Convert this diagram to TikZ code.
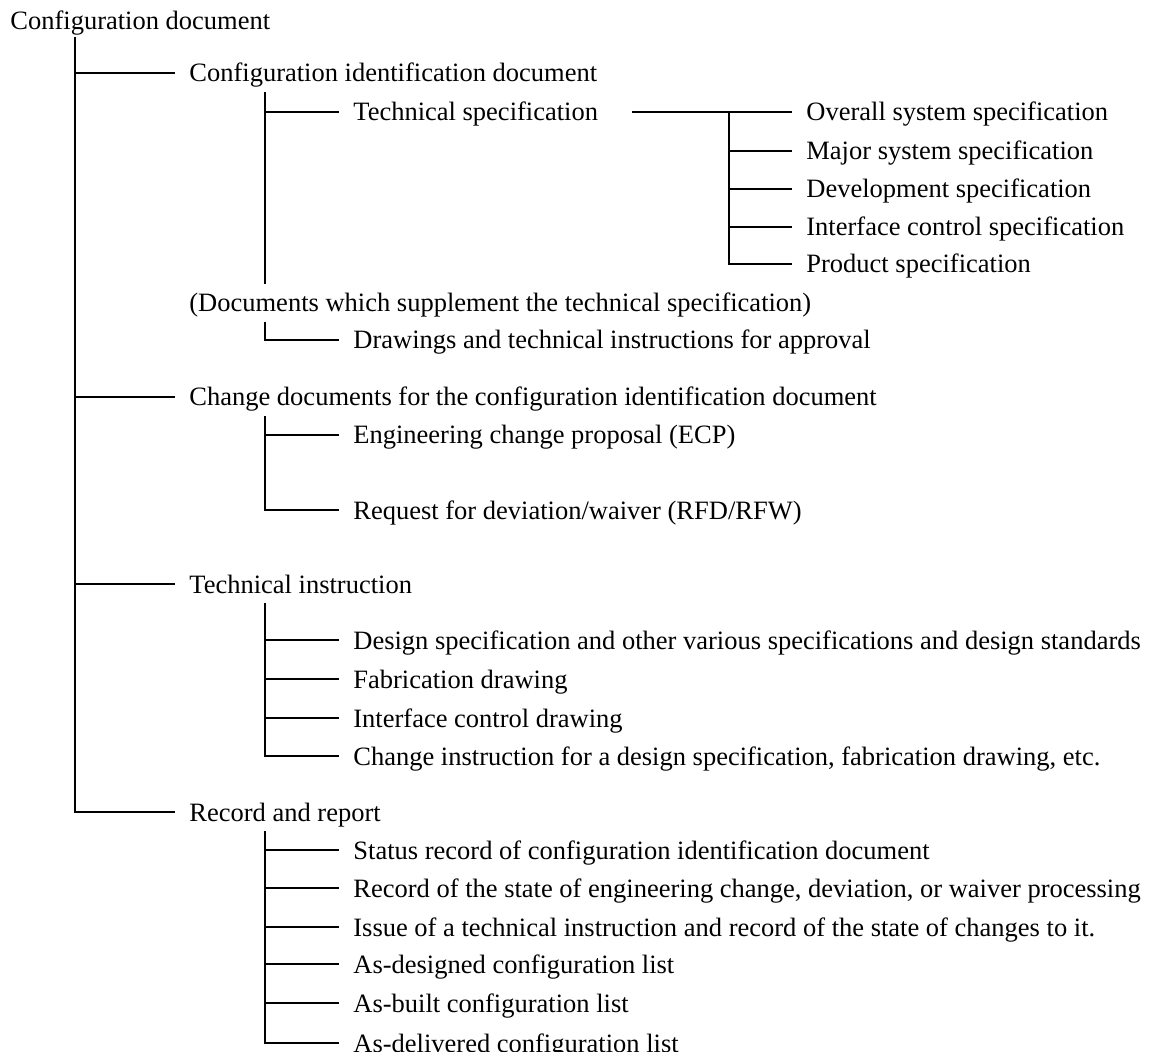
\documentclass[tikz,border=0pt]{standalone}
\usepackage{fontspec}
\setmainfont{Liberation Serif}
\tikzset{
  item/.style={anchor=west, inner xsep=7pt, inner ysep=5pt, text height=9pt, text depth=0pt,
    font=\fontsize{13.25pt}{16pt}\selectfont},
  branch/.style={line width=1.3pt}
}
\begin{document}
\begin{tikzpicture}[x=0.5pt,y=-0.5pt]
\useasboundingbox (0,0) rectangle (1149,1052);
%Root
\node[item] (root) at (-4,21) {Configuration document};
\coordinate (t1) at (75,37);
\coordinate (t2) at (265,0);
\coordinate (t3) at (729,0);

%First level
\node[item] (cid) at (175,73) {Configuration identification document};
\node[item] (supp) at (175,303) {(Documents which supplement the technical specification)};
\node[item] (chg) at (175,397) {Change documents for the configuration identification document};
\node[item] (tin) at (175,584) {Technical instruction};
\node[item] (rec) at (175,812) {Record and report};

%Second level
\node[item] (tspec) at (339,112) {Technical specification};
\node[item] (drw) at (339,340) {Drawings and technical instructions for approval};
\node[item] (ecp) at (339,435) {Engineering change proposal (ECP)};
\node[item] (rfd) at (339,510) {Request for deviation/waiver (RFD/RFW)};
\node[item] (dsg) at (339,640) {Design specification and other various specifications and design standards};
\node[item] (fab) at (339,679) {Fabrication drawing};
\node[item] (icd) at (339,718) {Interface control drawing};
\node[item] (chi) at (339,756) {Change instruction for a design specification, fabrication drawing, etc.};
\node[item] (sta) at (339,850) {Status record of configuration identification document};
\node[item] (ecr) at (339,888) {Record of the state of engineering change, deviation, or waiver processing};
\node[item] (iss) at (339,927) {Issue of a technical instruction and record of the state of changes to it.};
\node[item] (asd) at (339,964) {As-designed configuration list};
\node[item] (asb) at (339,1003) {As-built configuration list};
\node[item] (asv) at (339,1043) {As-delivered configuration list};

%Third level
\node[item] (ovr) at (792,112) {Overall system specification};
\node[item] (maj) at (792,151) {Major system specification};
\node[item] (dev) at (792,189) {Development specification};
\node[item] (ifc) at (792,227) {Interface control specification};
\node[item] (prd) at (792,264) {Product specification};

%Links from root
\draw[branch] (t1) |- (rec.west);
\draw[branch] (t1 |- cid.west) -- (cid.west);
\draw[branch] (t1 |- chg.west) -- (chg.west);
\draw[branch] (t1 |- tin.west) -- (tin.west);

%Links from first level
\draw[branch] (cid.south -| t2) -- (supp.north -| t2);
\draw[branch] (t2 |- tspec.west) -- (tspec.west);
\draw[branch] (supp.south -| t2) |- (drw.west);
\draw[branch] (chg.south -| t2) |- (rfd.west);
\draw[branch] (t2 |- ecp.west) -- (ecp.west);
\draw[branch] (tin.south -| t2) |- (chi.west);
\draw[branch] (t2 |- dsg.west) -- (dsg.west);
\draw[branch] (t2 |- fab.west) -- (fab.west);
\draw[branch] (t2 |- icd.west) -- (icd.west);
\draw[branch] (rec.south -| t2) |- (asv.west);
\draw[branch] (t2 |- sta.west) -- (sta.west);
\draw[branch] (t2 |- ecr.west) -- (ecr.west);
\draw[branch] (t2 |- iss.west) -- (iss.west);
\draw[branch] (t2 |- asd.west) -- (asd.west);
\draw[branch] (t2 |- asb.west) -- (asb.west);

%Links from technical specification
\draw[branch] ([xshift=10pt]tspec.east) -- (ovr.west);
\draw[branch] (t3 |- ovr.west) |- (prd.west);
\draw[branch] (t3 |- maj.west) -- (maj.west);
\draw[branch] (t3 |- dev.west) -- (dev.west);
\draw[branch] (t3 |- ifc.west) -- (ifc.west);
\end{tikzpicture}
\end{document}
